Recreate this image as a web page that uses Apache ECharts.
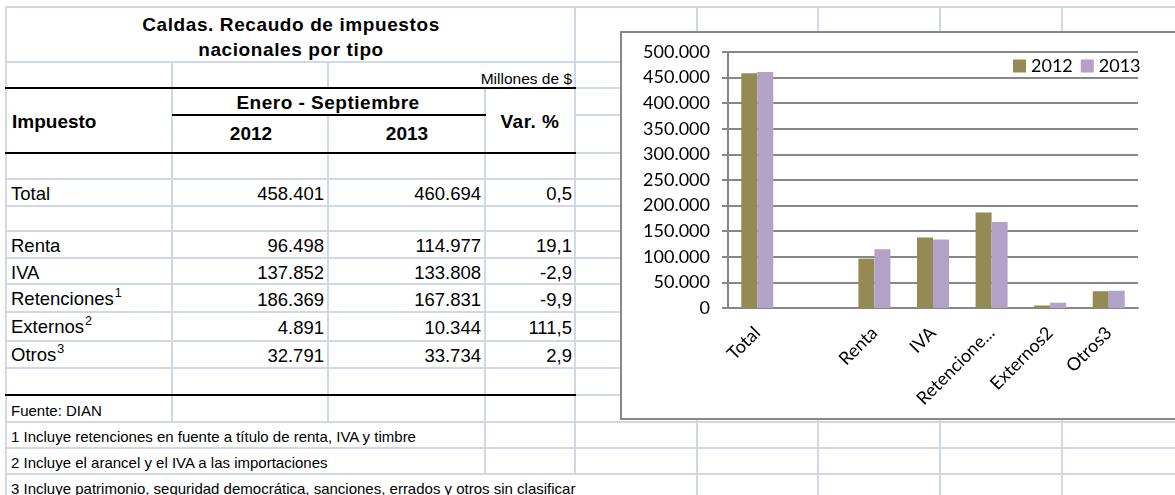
<!DOCTYPE html>
<html>
<head>
<meta charset="utf-8">
<script src="https://cdn.jsdelivr.net/npm/echarts@6/dist/echarts.min.js"></script>
<style>
html,body{margin:0;padding:0;background:#fff;}
#sheet{position:relative;width:1175px;height:495px;overflow:hidden;background:#fff;font-family:"Liberation Sans",Arial,sans-serif;color:#000;}
.ln{position:absolute;}
.t{position:absolute;white-space:nowrap;line-height:22px;font-size:18.5px;}
.b{font-weight:bold;font-size:19px;}
.s{font-size:15px;}
.sup{font-size:12.5px;position:relative;top:-8px;margin-left:1px;}
#chartBox{position:absolute;left:620px;top:31px;width:570px;height:389px;border:2px solid #878787;box-sizing:border-box;background:#fff;}
#chart{position:absolute;left:0;top:0;width:566px;height:385px;}
</style>
</head>
<body>
<div id="sheet">
  <div id="chartBox"><div id="chart"></div></div>
</div>
<script>
// ---------- data ----------
const categories = ['Total', '', 'Renta', 'IVA', 'Retenciones1', 'Externos2', 'Otros3'];
const values2012 = [458401, null, 96498, 137852, 186369, 4891, 32791];
const values2013 = [460694, null, 114977, 133808, 167831, 10344, 33734];
const seriesNames = ['2012', '2013'];
const yMin = 0, yMax = 500000, yInterval = 50000;

const titleLines = ['Caldas. Recaudo de impuestos', 'nacionales por tipo'];
const unitText = 'Millones de $';
const headerFirst = 'Impuesto';
const headerPeriod = 'Enero - Septiembre';
const headerYears = ['2012', '2013'];
const headerVar = 'Var. %';
const tableLabels = ['Total', 'Renta', 'IVA', 'Retenciones', 'Externos', 'Otros'];
const tableSup = ['', '', '', '1', '2', '3'];
const table2012 = [458401, 96498, 137852, 186369, 4891, 32791];
const table2013 = [460694, 114977, 133808, 167831, 10344, 33734];
const tableVar = [0.5, 19.1, -2.9, -9.9, 111.5, 2.9];
const footnotes = [
  'Fuente: DIAN',
  '1 Incluye retenciones en fuente a título de renta, IVA y timbre',
  '2 Incluye el arancel y el IVA a las importaciones',
  '3 Incluye patrimonio, seguridad democrática, sanciones, errados y otros sin clasificar'
];

// ---------- layout (spreadsheet geometry) ----------
const colX = [6, 172, 328, 485, 575, 697, 818, 940, 1062, 1184];
const rowY = [7, 62, 88, 115, 153, 179, 206, 231, 258, 284, 312, 341, 368, 395, 422, 448, 474, 500];
const dataRowIdx = [5, 7, 8, 9, 10, 11];
const noteRowIdx = [13, 14, 15, 16];
const GRID = '#D0D7E5';

const sheet = document.getElementById('sheet');
const chartBox = document.getElementById('chartBox');
function line(x, y, w, h, color) {
  const d = document.createElement('div');
  d.className = 'ln';
  d.style.left = x + 'px'; d.style.top = y + 'px';
  d.style.width = w + 'px'; d.style.height = h + 'px';
  d.style.background = color;
  sheet.insertBefore(d, chartBox);
}
function hl(y, x1, x2, color, w) { line(x1, y - w / 2, x2 - x1, w, color); }
function vl(x, y1, y2, color, w) { line(x - w / 2, y1, w, y2 - y1, color); }

// horizontal gridlines
rowY.forEach(y => {
  if (y === 115) { hl(y, 575, 1175, GRID, 2); return; }
  hl(y, 5, 1175, GRID, 2);
});
// vertical gridlines, with hidden segments (merged cells / overflowing text)
const hidden = {
  172: [0, 14, 15, 16],
  328: [0, 2, 14, 15, 16],
  485: [0, 1, 16],
  575: [16]
};
colX.forEach(x => {
  for (let i = 0; i < rowY.length - 1; i++) {
    if (hidden[x] && hidden[x].includes(i)) continue;
    vl(x, rowY[i], rowY[i + 1] + (i === rowY.length - 2 ? 0 : 1), GRID, 2);
  }
});
// black borders
hl(88, 5, 576, '#000', 2.5);
hl(115, 172, 486, '#000', 2);
hl(153, 5, 576, '#000', 2.5);
hl(395, 5, 576, '#000', 2.5);

function txt(html, x, y, align, cls) {
  const d = document.createElement('div');
  d.className = 't ' + (cls || '');
  d.innerHTML = html;
  d.style.left = x + 'px'; d.style.top = y + 'px';
  const tx = align === 'right' ? '-100%' : align === 'center' ? '-50%' : '0';
  d.style.transform = 'translate(' + tx + ',-50%)';
  sheet.insertBefore(d, chartBox);
  return d;
}
const fmtInt = v => String(v).replace(/\B(?=(\d{3})+(?!\d))/g, '.');
const fmtDec = v => v.toFixed(1).replace('.', ',');

titleLines.forEach((s, i) => {
  const d = txt(s, 291, 25 + i * 25, 'center', 'b');
  d.style.letterSpacing = '0.6px';
});
txt(unitText, 572, 79, 'right', 's').style.fontSize = '15.5px';
txt(headerFirst, 12, 122, 'left', 'b');
txt(headerPeriod, 328, 103, 'center', 'b').style.letterSpacing = '0.5px';
txt(headerYears[0], 251, 134, 'center', 'b');
txt(headerYears[1], 407, 134, 'center', 'b');
txt(headerVar, 530, 122, 'center', 'b').style.letterSpacing = '0.5px';

tableLabels.forEach((lab, i) => {
  const r = dataRowIdx[i];
  const y = (rowY[r] + rowY[r + 1]) / 2 + 1.5;
  txt(lab + (tableSup[i] ? '<span class="sup">' + tableSup[i] + '</span>' : ''), 11, y, 'left');
  txt(fmtInt(table2012[i]), 324, y, 'right');
  txt(fmtInt(table2013[i]), 481, y, 'right');
  txt(fmtDec(tableVar[i]), 572, y, 'right');
});
footnotes.forEach((s, i) => {
  const r = noteRowIdx[i];
  txt(s, 11, (rowY[r] + rowY[r + 1]) / 2 + 2, 'left', 's');
});

// ---------- chart ----------
const chart = echarts.init(document.getElementById('chart'), null, { renderer: 'canvas' });
const AX = '#878787';
chart.setOption({
  animation: false,
  textStyle: { fontFamily: 'Lato' },
  legend: {
    data: seriesNames, left: 386, top: 19, icon: 'rect',
    itemWidth: 13, itemHeight: 13, itemGap: 8,
    textStyle: { fontSize: 18, color: '#000', fontFamily: 'Lato' }
  },
  grid: { left: 106, top: 19, width: 410, height: 256 },
  xAxis: {
    type: 'category', data: categories, boundaryGap: true,
    axisLine: { lineStyle: { color: AX, width: 2 } },
    axisTick: { length: 8, lineStyle: { color: AX, width: 2 } },
    axisLabel: {
      rotate: 45, margin: 22, interval: 0, fontSize: 18, color: '#000', fontFamily: 'Lato',
      formatter: v => v.length > 11 ? v.slice(0, 10) + '...' : v
    }
  },
  yAxis: {
    type: 'value', min: yMin, max: yMax, interval: yInterval,
    axisLine: { show: true, lineStyle: { color: AX, width: 2 } },
    axisTick: { show: true, length: 6, lineStyle: { color: AX, width: 2 } },
    splitLine: { lineStyle: { color: AX, width: 2 } },
    axisLabel: { margin: 18, fontSize: 18, color: '#000', fontFamily: 'Lato', formatter: fmtInt }
  },
  series: [
    { name: seriesNames[0], type: 'bar', data: values2012, barWidth: 16, barGap: '0%', itemStyle: { color: '#948A54' } },
    { name: seriesNames[1], type: 'bar', data: values2013, barWidth: 16, barGap: '0%', itemStyle: { color: '#B3A2C7' } }
  ]
});
</script>
</body>
</html>
